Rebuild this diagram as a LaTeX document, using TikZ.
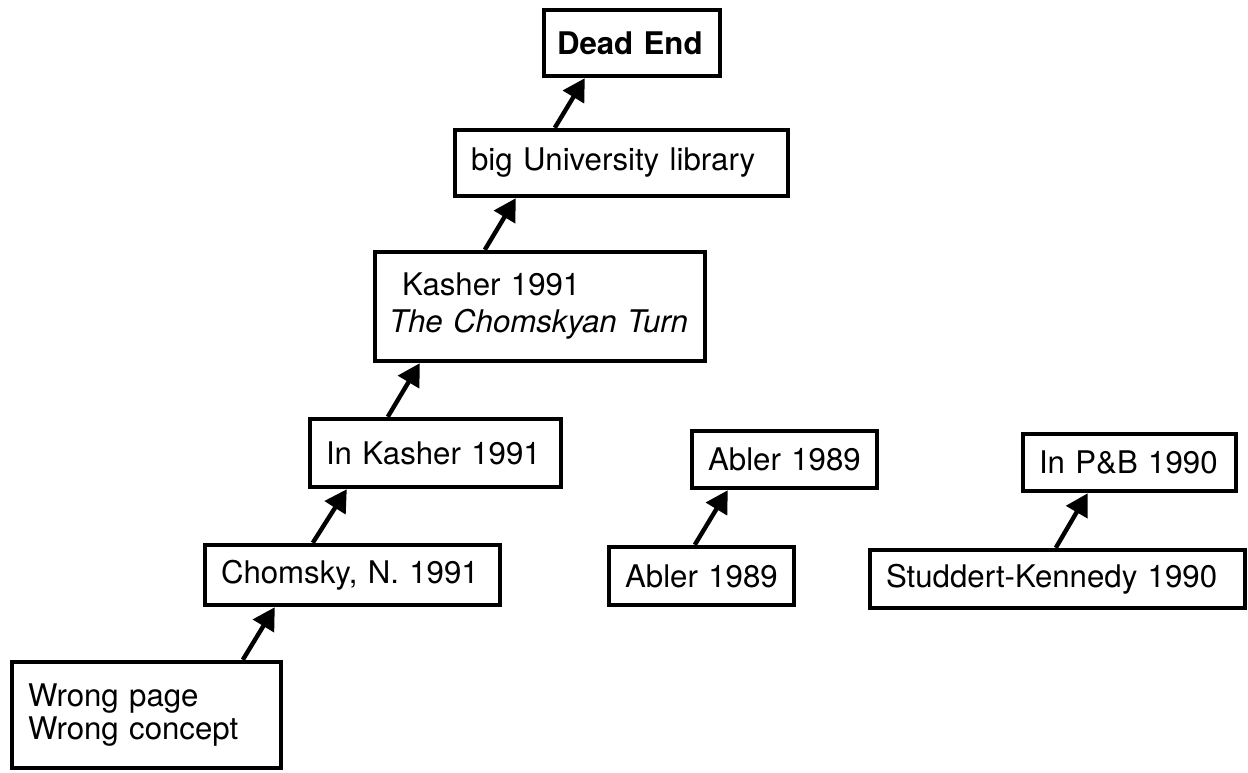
\documentclass[tikz,border=0pt]{standalone}
\usepackage{fontspec}
\setmainfont{TeX Gyre Heros}
\usetikzlibrary{arrows.meta}

\begin{document}
\begin{tikzpicture}[x=0.5pt,y=-0.5pt,
		box/.style={draw,line width=2.2pt,inner xsep=8pt,inner ysep=0pt,align=left,font=\fontsize{15.6}{18.5}\selectfont},
		arr/.style={line width=2.2pt,-{Triangle[length=11pt,width=12pt]}}]
				\useasboundingbox (0,0) rectangle (1248,772);
				\node[box,inner xsep=6.5pt,text width=75pt,minimum height=33pt] (deadend) at (632,43) {\textbf{Dead End}};
				\node[box,text width=150.5pt,minimum height=33pt] (library) at (621.5,163) {big University library};
				\node[box,inner xsep=7pt,text width=151pt,minimum height=54.5pt] (kasher) at (540,306.5) {\hspace*{6.5pt}Kasher 1991\\\textit{The Chomskyan Turn}};
				\node[box,text width=109.5pt,minimum height=34pt] (inkasher) at (435.5,453) {In Kasher 1991};
				\node[box,text width=131.5pt,minimum height=30pt] (chomsky) at (352.5,575) {Chomsky, N. 1991};
				\node[box,text width=118.5pt,minimum height=53pt,font=\fontsize{15.6}{16.5}\selectfont] (wrong) at (146.5,715) {Wrong page\\Wrong concept\par\vspace*{9pt}};
				\node[box,text width=76.5pt,minimum height=28.5pt] (ablerB) at (784.5,459.5) {Abler 1989};
				\node[box,text width=76.5pt,minimum height=29pt] (ablerA) at (701.5,576) {Abler 1989};
				\node[box,text width=90.5pt,minimum height=28.5pt] (pb) at (1129.5,462.5) {In P\&B 1990};
				\node[box,text width=171.5pt,minimum height=29pt] (studdert) at (1057.5,579) {Studdert-Kennedy 1990};
				\draw[arr] ([xshift=116.5pt]wrong.north west) -- ([xshift=36pt]chomsky.south west);
				\draw[arr] ([xshift=55pt]chomsky.north west) -- ([xshift=19.5pt]inkasher.south west);
				\draw[arr] ([xshift=40pt]inkasher.north west) -- ([xshift=23.5pt]kasher.south west);
				\draw[arr] ([xshift=56pt]kasher.north west) -- ([xshift=31.5pt]library.south west);
				\draw[arr] ([xshift=51pt]library.north west) -- ([xshift=21.5pt]deadend.south west);
				\draw[arr] ([xshift=44pt]ablerA.north west) -- ([xshift=19pt]ablerB.south west);
				\draw[arr] ([xshift=94pt]studdert.north west) -- ([xshift=33.5pt]pb.south west);
			\end{tikzpicture}
\end{document}
